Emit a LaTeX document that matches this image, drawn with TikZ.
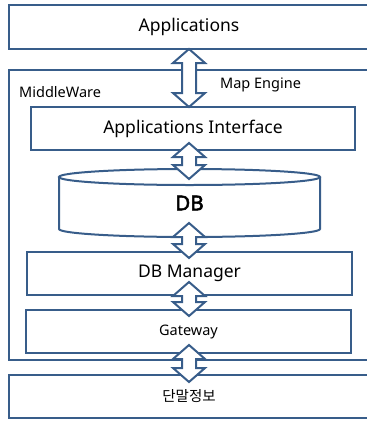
\documentclass[tikz,border=0pt]{standalone}
\usepackage{fontspec}
\setmainfont{Noto Sans}[AutoFakeBold=2.5]
\newfontfamily\krfont{Noto Sans CJK KR}
\usepackage{tikz}
\usetikzlibrary{positioning}
\usetikzlibrary{calc}
\definecolor{boxblue}{RGB}{56,93,138}
\tikzstyle{box} = [rectangle, draw=boxblue, line width=2pt, outer sep=0pt, inner sep=0pt, align=center]
\tikzstyle{bigtext} = [font=\fontsize{17.5}{20}\selectfont]
\tikzstyle{smalltext} = [font=\fontsize{14.5}{17}\selectfont]
\tikzstyle{outline} = [draw=boxblue, line width=2pt]
\tikzstyle{blockarrow} = [outline, fill=white, line join=miter]
% hollow double arrow between two stacked nodes, #3/#4 = overlap into the nodes
\newcommand{\dblarrow}[4]{%
	\draw[blockarrow] let \p1=(#1.south -| axis), \p2=(#2.north -| axis) in
		(\x1,\y1+#3) -- (\x1+16pt,\y1+#3-14pt) -- (\x1+7pt,\y1+#3-14pt) -- (\x1+7pt,\y2-#4+14pt)
		-- (\x1+16pt,\y2-#4+14pt) -- (\x1,\y2-#4) -- (\x1-16pt,\y2-#4+14pt) -- (\x1-7pt,\y2-#4+14pt)
		-- (\x1-7pt,\y1+#3-14pt) -- (\x1-16pt,\y1+#3-14pt) -- cycle;}

\begin{document}
\begin{tikzpicture}[x=1pt, y=-1pt]
		\useasboundingbox (0,0) rectangle (367,421);
		\clip (0,0) rectangle (367,421);
		\coordinate (axis) at (189,0);
		\node[box,bigtext,minimum width=360pt,minimum height=44pt] (apps) at (189,27) {Applications};
		\node[box,below=21pt of apps,minimum width=360pt,minimum height=290pt] (mw) {};
		\node[box,bigtext,below=58pt of apps,xshift=4pt,minimum width=324pt,minimum height=43pt] (api) {Applications Interface};
		\node[inner sep=0pt,outer sep=0pt,below=19pt of api,xshift=-3.5pt,minimum width=261pt,minimum height=68pt,font=\bfseries\fontsize{20.5}{24}\selectfont] (db) {\raisebox{-4pt}{DB}};
		\node[box,bigtext,below=15pt of db,minimum width=325pt,minimum height=43pt] (dbm) {DB Manager};
		\node[box,smalltext,below=15pt of dbm,xshift=-1pt,minimum width=325pt,minimum height=43pt] (gw) {Gateway};
		\node[box,smalltext,minimum width=360pt,minimum height=43pt] (term) at (189,396.5) {\krfont 단말정보};
		\node[smalltext,anchor=west,inner sep=0pt] (mwlabel) at (19,92) {MiddleWare};
		\node[smalltext,anchor=west,inner sep=0pt] (maplabel) at (220,85) {Map Engine};
		% cylinder outline of the DB node
		\draw[outline] ($(db.north)+(0,8)$) ellipse [x radius=130.5pt, y radius=8pt];
		\draw[outline] ($(db.north west)+(0,8)$) -- ($(db.south west)+(0,-8)$) arc[start angle=180, end angle=360, x radius=130.5pt, y radius=8pt] -- ($(db.north east)+(0,8)$);
		\dblarrow{apps}{api}{0pt}{0pt}
		\dblarrow{api}{db}{7pt}{10pt}
		\dblarrow{db}{dbm}{14pt}{6pt}
		\dblarrow{dbm}{gw}{13pt}{6pt}
		\dblarrow{gw}{term}{8pt}{7pt}
	\end{tikzpicture}
\end{document}
